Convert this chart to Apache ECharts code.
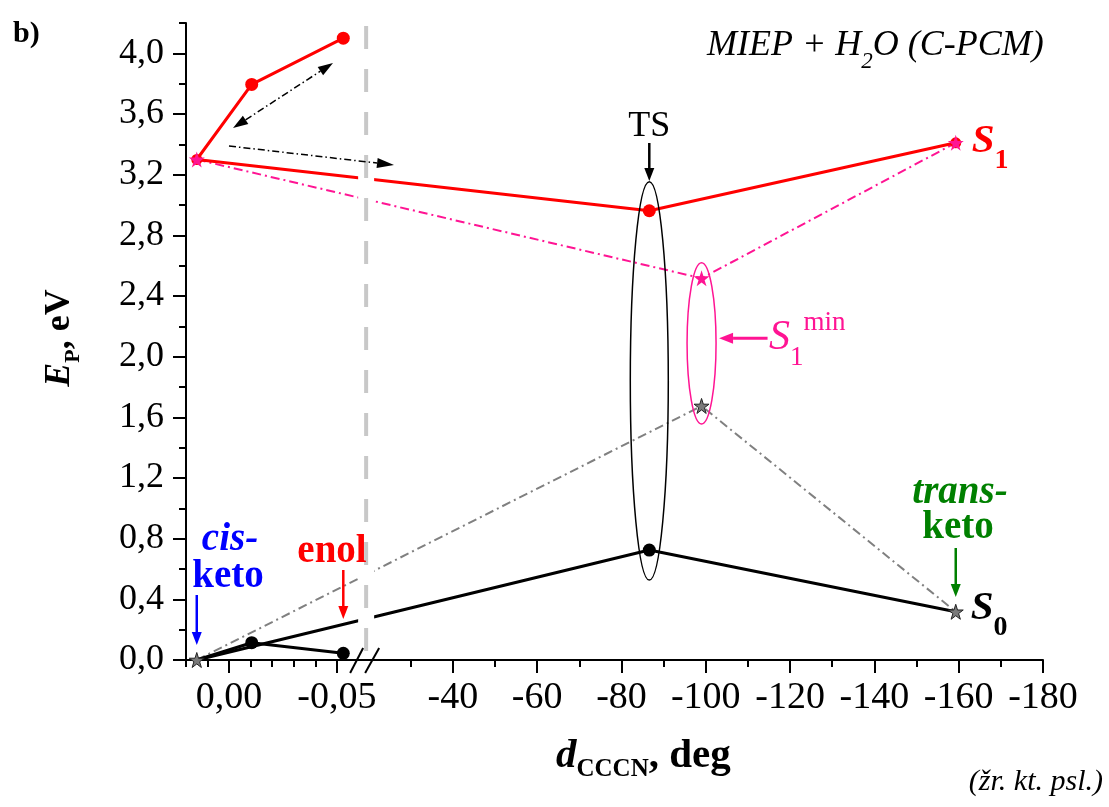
<!DOCTYPE html>
<html><head><meta charset="utf-8">
<script src="https://cdn.jsdelivr.net/npm/echarts@6/dist/echarts.min.js"></script>
<style>html,body{margin:0;padding:0;background:#fff}#main{width:1109px;height:807px}</style>
</head><body><div id="main"></div>
<script>
// ---------------- data ----------------
const xMajorLeft = [0, -0.05];
const xMinorLeft = [0.02, 0.01, -0.01, -0.02, -0.03, -0.04];
const xMajorRight = [-40, -60, -80, -100, -120, -140, -160, -180];
const xMinorRight = [-30, -50, -70, -90, -110, -130, -150, -170];
const yMajor = [0, 0.4, 0.8, 1.2, 1.6, 2.0, 2.4, 2.8, 3.2, 3.6, 4.0];
const yMinor = [0.2, 0.6, 1.0, 1.4, 1.8, 2.2, 2.6, 3.0, 3.4, 3.8, 4.2];

// cis-keto -> intermediate -> enol (small dihedral range)
const dLeft  = [0.015, -0.0105, -0.053];
const s1Left = [3.30, 3.795, 4.10];
const s0Left = [0.0, 0.114, 0.044];
// cis-keto -> TS -> trans-keto
const dPath  = [0.015, -86.6, -159.3];
const s1Path = [3.30, 2.962, 3.41];
const s0Path = [0.0, 0.725, 0.318];
// cis-keto -> S1 min -> trans-keto
const dMin  = [0.015, -99.0, -159.3];
const s1Min = [3.30, 2.517, 3.41];
const s0Min = [0.0, 1.675, 0.318];

// ---------------- broken axis transform ----------------
const LEFT_SCALE = 2154, RIGHT_ORIGIN = 223.7, RIGHT_SCALE = 4.214;
function toU(d){ return d > -1 ? -d * LEFT_SCALE : RIGHT_ORIGIN + (-40 - d) * RIGHT_SCALE; }
const U_MIN = toU(0.02), U_MAX = toU(-180);
const BREAK_U = 138;

const F = '"Liberation Serif","Times New Roman",serif';
const STAR = 'path://M50,0L61.2,34.5L97.6,34.5L68.2,55.9L79.4,90.5L50,69.1L20.6,90.5L31.8,55.9L2.4,34.5L38.8,34.5Z';
const PINK = '#ff1493', RED = '#ff0000', GREEN = '#008000', BLUE = '#0000ff';

const xLabelMap = {};
xMajorLeft.forEach(d => xLabelMap[toU(d).toFixed(3)] = d.toFixed(2).replace('.', ','));
xMajorRight.forEach(d => xLabelMap[toU(d).toFixed(3)] = String(d));
const pts = (xs, ys) => xs.map((d, i) => [toU(d), ys[i]]);

const chart = echarts.init(document.getElementById('main'));
const dashDot = [9, 4, 2, 4];
chart.setOption({
  animation: false,
  grid: {left: 186, right: 66, top: 23, bottom: 147},
  xAxis: [{
    type: 'value', min: U_MIN, max: U_MAX, position: 'bottom',
    axisLine: {show: true, onZero: false, lineStyle: {color: '#000', width: 2}},
    axisTick: {show: true, customValues: [...xMajorLeft, ...xMajorRight].map(toU), length: 13, lineStyle: {color: '#000', width: 2}},
    axisLabel: {customValues: [...xMajorLeft, ...xMajorRight].map(toU), formatter: v => xLabelMap[Number(v).toFixed(3)] ?? '',
      fontFamily: F, fontSize: 38, color: '#000', margin: 19, showMaxLabel: true, showMinLabel: true},
    splitLine: {show: false}
  }, {
    type: 'value', min: U_MIN, max: U_MAX, position: 'bottom',
    axisLine: {show: false, onZero: false},
    axisTick: {show: true, customValues: [...xMinorLeft, ...xMinorRight].map(toU), length: 7, lineStyle: {color: '#000', width: 2}},
    axisLabel: {show: false}, splitLine: {show: false}
  }],
  yAxis: [{
    type: 'value', min: 0, max: 4.2, position: 'left',
    axisLine: {show: true, onZero: false, lineStyle: {color: '#000', width: 2}},
    axisTick: {show: true, customValues: yMajor, length: 13, lineStyle: {color: '#000', width: 2}},
    axisLabel: {customValues: yMajor, formatter: v => Number(v).toFixed(1).replace('.', ','),
      fontFamily: F, fontSize: 36, color: '#000', margin: 22},
    splitLine: {show: false}
  }, {
    type: 'value', min: 0, max: 4.2, position: 'left',
    axisLine: {show: false, onZero: false},
    axisTick: {show: true, customValues: yMinor, length: 7, lineStyle: {color: '#000', width: 2}},
    axisLabel: {show: false}, splitLine: {show: false}
  }],
  series: [
    {type: 'line', name: 'S0 min path', data: pts(dMin, s0Min), symbol: 'none', lineStyle: {color: '#808080', width: 2, type: dashDot}, z: 2},
    {type: 'line', name: 'S1 min path', data: pts(dMin, s1Min), symbol: 'none', lineStyle: {color: PINK, width: 2, type: dashDot}, z: 2},
    {type: 'line', name: 'S0 left', data: pts(dLeft, s0Left), symbol: 'none', lineStyle: {color: '#000', width: 3}, z: 2},
    {type: 'line', name: 'S0 TS', data: pts(dPath, s0Path), symbol: 'none', lineStyle: {color: '#000', width: 3}, z: 2},
    {type: 'line', name: 'S1 left', data: pts(dLeft, s1Left), symbol: 'none', lineStyle: {color: RED, width: 3}, z: 2},
    {type: 'line', name: 'S1 TS', data: pts(dPath, s1Path), symbol: 'none', lineStyle: {color: RED, width: 3}, z: 2},
    {type: 'scatter', data: pts([dLeft[1], dLeft[2], dPath[1]], [s0Left[1], s0Left[2], s0Path[1]]), symbol: 'circle', symbolSize: 13, itemStyle: {color: '#000', opacity: 1}, z: 3},
    {type: 'scatter', data: pts([dLeft[1], dLeft[2], dPath[1]], [s1Left[1], s1Left[2], s1Path[1]]), symbol: 'circle', symbolSize: 13, itemStyle: {color: RED, opacity: 1}, z: 3},
    {type: 'scatter', data: pts(dMin, s0Min), symbol: STAR, symbolSize: 15, itemStyle: {color: '#7a7a7a', borderColor: '#222', borderWidth: 1, opacity: 1}, z: 3},
    {type: 'scatter', data: pts([dMin[0], dMin[2]], [s1Min[0], s1Min[2]]), symbol: 'circle', symbolSize: 11, itemStyle: {color: RED, opacity: 1}, z: 3},
    {type: 'scatter', data: pts(dMin, s1Min), symbol: STAR, symbolSize: 16, itemStyle: {color: PINK, opacity: 1}, z: 3}
  ]
});

// ---------------- annotations ----------------
const P = (d, e) => chart.convertToPixel({xAxisIndex: 0, yAxisIndex: 0}, [toU(d), e]);
const bx = chart.convertToPixel({xAxisIndex: 0}, BREAK_U);
const y0 = chart.convertToPixel({yAxisIndex: 0}, 0);
const yTop = chart.convertToPixel({yAxisIndex: 0}, 4.2);

function arrow(x1, y1, x2, y2, color, width, hl, hw, dash, both){
  const out = [];
  const a = Math.atan2(y2 - y1, x2 - x1);
  const cx = Math.cos(a), sy = Math.sin(a);
  let sx1 = x1, sy1 = y1;
  const ex = x2 - hl * cx, ey = y2 - hl * sy;
  const nx = -sy * hw / 2, ny = cx * hw / 2;
  out.push({type: 'polygon', z: 20, shape: {points: [[x2, y2], [ex + nx, ey + ny], [ex - nx, ey - ny]]}, style: {fill: color}});
  if (both){
    const fx = x1 + hl * cx, fy = y1 + hl * sy;
    out.push({type: 'polygon', z: 20, shape: {points: [[x1, y1], [fx + nx, fy + ny], [fx - nx, fy - ny]]}, style: {fill: color}});
    sx1 = fx; sy1 = fy;
  }
  out.push({type: 'line', z: 20, shape: {x1: sx1, y1: sy1, x2: ex, y2: ey}, style: {stroke: color, lineWidth: width, lineDash: dash || null}});
  return out;
}
function txt(x, y, text, rich, opts){
  return Object.assign({type: 'text', z: 20, x: x, y: y, style: Object.assign({text: text, rich: rich, align: 'left', verticalAlign: 'middle', fontFamily: F}, opts && opts.style)}, opts && opts.el);
}
const R = (size, o) => Object.assign({fontFamily: F, fontSize: size}, o || {});

const cis = P(dLeft[0], s0Left[0]);
const enol = P(dLeft[2], s0Left[2]);
const ts1 = P(dPath[1], s1Path[1]);
const tr0 = P(dPath[2], s0Path[2]);
const tr1 = P(dPath[2], s1Path[2]);
const mn1 = P(dMin[1], s1Min[1]);
const tsTop = P(dPath[1], 3.154), tsBot = P(dPath[1], 0.527);
const mnTop = P(dMin[1], 2.62), mnBot = P(dMin[1], 1.556);

const els = [];
// white gap band at axis break + gray dashed break line
els.push({type: 'rect', z: 10, shape: {x: bx - 9, y: yTop, width: 16, height: y0 - yTop - 6}, style: {fill: '#fff'}});
els.push({type: 'line', z: 15, shape: {x1: bx - 1, y1: yTop + 3, x2: bx - 1, y2: y0 - 5}, style: {stroke: '#c8c8c8', lineWidth: 4, lineDash: [23, 20]}});
// axis break slashes
els.push({type: 'line', z: 20, shape: {x1: bx - 17, y1: y0 + 13, x2: bx - 4, y2: y0 - 12}, style: {stroke: '#000', lineWidth: 2}});
els.push({type: 'line', z: 20, shape: {x1: bx - 2, y1: y0 + 13, x2: bx + 12, y2: y0 - 12}, style: {stroke: '#000', lineWidth: 2}});
// ellipses
els.push({type: 'ellipse', z: 20, shape: {cx: ts1[0], cy: (tsTop[1] + tsBot[1]) / 2, rx: 19, ry: (tsBot[1] - tsTop[1]) / 2}, style: {fill: 'none', stroke: '#000', lineWidth: 1.5}});
els.push({type: 'ellipse', z: 20, shape: {cx: mn1[0], cy: (mnTop[1] + mnBot[1]) / 2, rx: 14.5, ry: (mnBot[1] - mnTop[1]) / 2}, style: {fill: 'none', stroke: PINK, lineWidth: 1.5}});
// arrows
els.push(...arrow(ts1[0], 143, ts1[0], 181, '#000', 2.5, 13, 10));
els.push(...arrow(cis[0], 595, cis[0], 645, BLUE, 2.5, 13, 10));
els.push(...arrow(enol[0], 570, enol[0], 619, RED, 2.5, 13, 10));
els.push(...arrow(tr0[0], 548, tr0[0], 597, GREEN, 2.5, 13, 10));
const mnMid = (mnTop[1] + mnBot[1]) / 2 - 5;
els.push(...arrow(mn1[0] + 66, mnMid, mn1[0] + 17.5, mnMid, PINK, 3, 14, 11));
els.push(...arrow(233, 128, 333, 63, '#000', 1.5, 15, 10, [7, 3, 1.5, 3], true));
els.push(...arrow(229, 146, 394, 165, '#000', 1.5, 17, 10, [7, 3, 1.5, 3]));
// texts
els.push(txt(13, 34, 'b)', null, {style: {fontSize: 30, fontWeight: 'bold', fill: '#000'}}));
els.push(txt(707, 46, '{i|MIEP + H}{s|2}{i|O (C-PCM)}', {i: R(36, {fontStyle: 'italic'}), s: R(23, {fontStyle: 'italic', padding: [32, 0, 0, 0]})}, {style: {fill: '#000'}}));
els.push(txt(60, 338, '{e|E}{s|P}{n|, eV}', {e: R(36, {fontStyle: 'italic', fontWeight: 'bold'}), s: R(22, {fontWeight: 'bold', padding: [26, 0, 0, 0]}), n: R(36, {fontWeight: 'bold'})},
  {style: {fill: '#000', align: 'center'}, el: {rotation: Math.PI / 2}}));
els.push(txt(556, 756, '{d|d}{s|CCCN}{n|, deg}', {d: R(41, {fontStyle: 'italic', fontWeight: 'bold'}), s: R(25, {fontWeight: 'bold', padding: [28, 0, 0, 0]}), n: R(41, {fontWeight: 'bold'})}, {style: {fill: '#000'}}));
els.push(txt(1103, 782, '(žr. kt. psl.)', null, {style: {fontSize: 30, fontStyle: 'italic', fill: '#000', align: 'right'}}));
els.push(txt(ts1[0], 127, 'TS', null, {style: {fontSize: 36, fill: '#000', align: 'center'}}));
els.push(txt(769, 338, '{m|S}{s|1}{u|min}', {m: R(42, {fontStyle: 'italic'}), s: R(27, {padding: [40, 0, 0, 0]}), u: R(27, {padding: [0, 0, 30, 0]})}, {style: {fill: PINK}}));
els.push(txt(tr1[0] + 16, 141, '{m|S}{s|1}', {m: R(41, {fontStyle: 'italic', fontWeight: 'bold'}), s: R(28, {fontWeight: 'bold', padding: [39, 0, 0, 0]})}, {style: {fill: RED}}));
els.push(txt(tr0[0] + 15, 608, '{m|S}{s|0}', {m: R(41, {fontStyle: 'italic', fontWeight: 'bold'}), s: R(28, {fontWeight: 'bold', padding: [39, 0, 0, 0]})}, {style: {fill: '#000'}}));
els.push(txt(960, 493, 'trans-', null, {style: {fontSize: 39, fontStyle: 'italic', fontWeight: 'bold', fill: GREEN, align: 'center'}}));
els.push(txt(958, 528, 'keto', null, {style: {fontSize: 39, fontWeight: 'bold', fill: GREEN, align: 'center'}}));
els.push(txt(230, 540, 'cis-', null, {style: {fontSize: 39, fontStyle: 'italic', fontWeight: 'bold', fill: BLUE, align: 'center'}}));
els.push(txt(228, 577, 'keto', null, {style: {fontSize: 39, fontWeight: 'bold', fill: BLUE, align: 'center'}}));
els.push(txt(332, 552, 'enol', null, {style: {fontSize: 39, fontWeight: 'bold', fill: RED, align: 'center'}}));

chart.setOption({graphic: {elements: els}});
</script></body></html>
